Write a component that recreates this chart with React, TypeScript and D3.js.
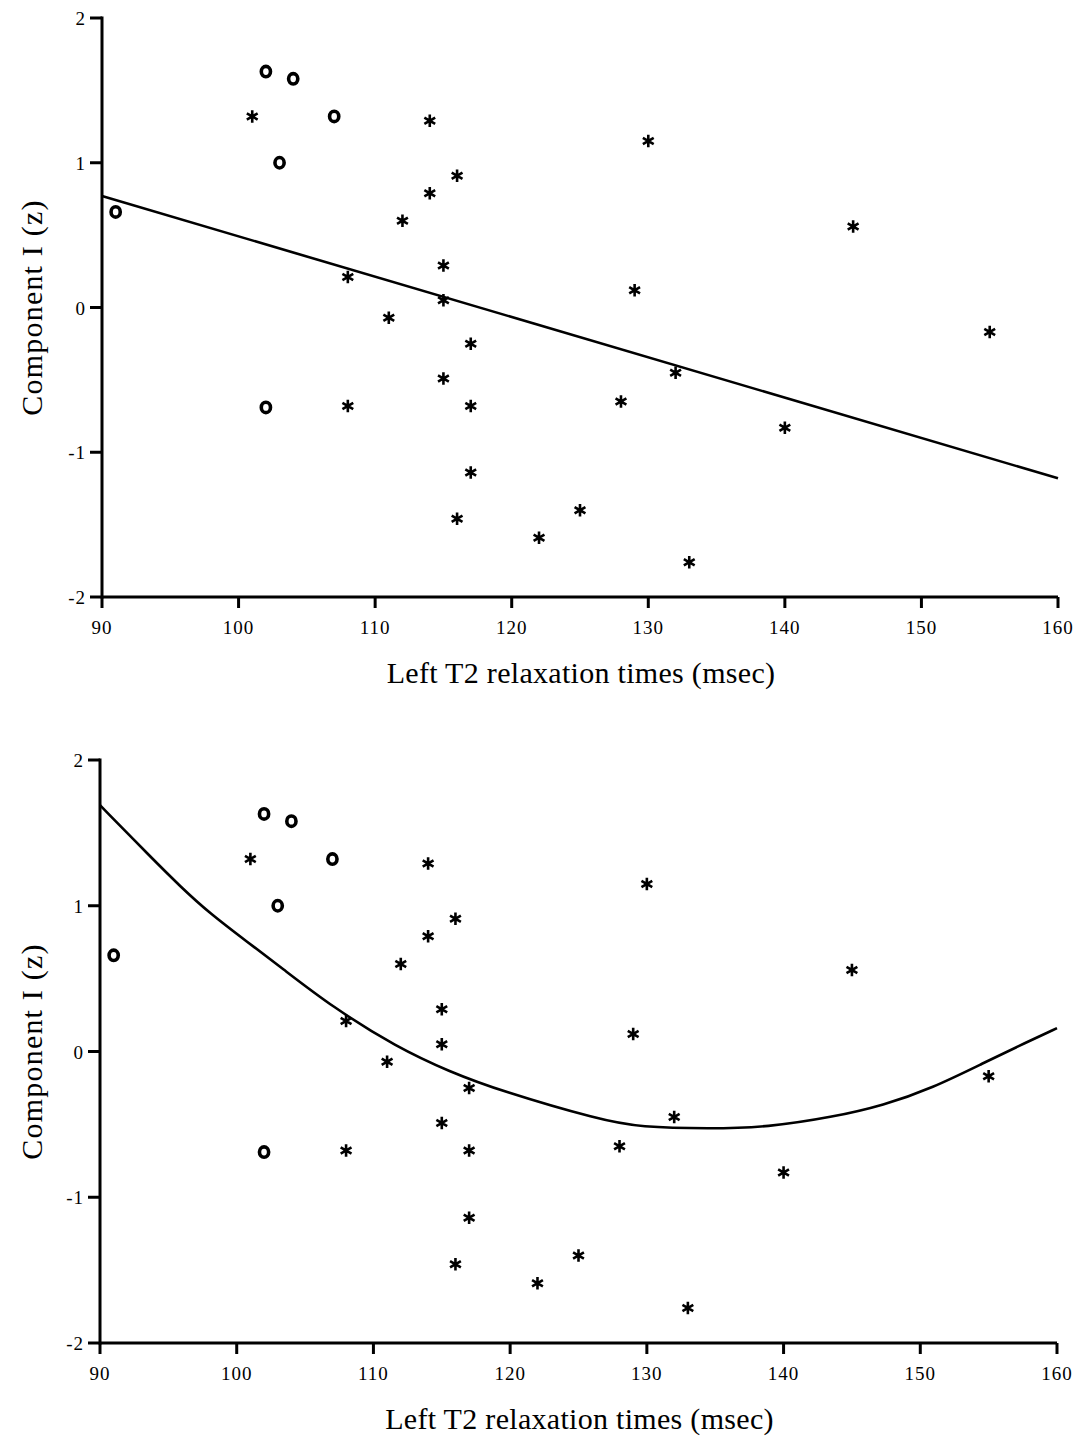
import React from "react";
import * as d3 from "d3";

// observations: "o" group and "*" group (same data in both panels)
const circleX = [102, 104, 107, 103, 91, 102];
const circleY = [1.63, 1.58, 1.32, 1.0, 0.66, -0.69];
const starX = [101, 114, 130, 116, 114, 112, 145, 115, 108, 129, 115, 111, 155, 117, 132, 115, 128, 108, 117, 140, 117, 125, 116, 122, 133];
const starY = [1.32, 1.29, 1.15, 0.91, 0.79, 0.6, 0.56, 0.29, 0.21, 0.12, 0.05, -0.07, -0.17, -0.25, -0.45, -0.49, -0.65, -0.68, -0.68, -0.83, -1.14, -1.4, -1.46, -1.59, -1.76];

// fitted curves
const linearFitX = [90, 160];
const linearFitY = [0.77, -1.18];
const quadFitX = [90, 93.7, 95.9, 98, 100.8, 103.2, 107, 111.7, 115.6, 119.3, 126.6, 129.5, 134.6, 138.8, 143.6, 147.3, 150.9, 154.6, 157.8, 160];
const quadFitY = [1.69, 1.335, 1.13, 0.95, 0.75, 0.58, 0.305, 0.03, -0.14, -0.27, -0.47, -0.52, -0.53, -0.52, -0.45, -0.37, -0.25, -0.08, 0.065, 0.16];

const xTicks = [90, 100, 110, 120, 130, 140, 150, 160];
const yTicks = [-2, -1, 0, 1, 2];
const xTitle = "Left T2 relaxation times (msec)";
const yTitle = "Component I (z)";

const font = "'Liberation Serif', 'DejaVu Serif', serif";

const star = d3.symbol(d3.symbolAsterisk, 110)();

const Panel = ({ xRange, yRange, fitX, fitY, xTitleY, smooth }) => {
  const x = d3.scaleLinear().domain([90, 160]).range(xRange);
  const y = d3.scaleLinear().domain([-2, 2]).range(yRange);
  const fit = d3
    .line()
    .x(d => x(d[0]))
    .y(d => y(d[1]))
    .curve(smooth ? d3.curveBasis : d3.curveLinear);
  const fitData = fitX.map((v, i) => [v, fitY[i]]);
  const x0 = xRange[0];
  const y0 = yRange[0];
  const yMid = (yRange[0] + yRange[1]) / 2;

  return (
    <g>
      {/* fitted line */}
      <path d={fit(fitData)} fill="none" stroke="#000" strokeWidth={2.6} />

      {/* axes */}
      <line x1={x0} x2={xRange[1]} y1={y0} y2={y0} stroke="#000" strokeWidth={3} />
      <line x1={x0} x2={x0} y1={y0 + 1.5} y2={yRange[1] - 1.5} stroke="#000" strokeWidth={3} />
      {xTicks.map(t => (
        <g key={`x${t}`}>
          <line x1={x(t)} x2={x(t)} y1={y0} y2={y0 + 11} stroke="#000" strokeWidth={3} />
          <text x={x(t)} y={y0 + 37} textAnchor="middle" fontFamily={font} fontSize={19} letterSpacing={1}>
            {t}
          </text>
        </g>
      ))}
      {yTicks.map(t => (
        <g key={`y${t}`}>
          <line x1={x0 - 12} x2={x0} y1={y(t)} y2={y(t)} stroke="#000" strokeWidth={3} />
          <text x={x0 - 16} y={y(t) + 7} textAnchor="end" fontFamily={font} fontSize={19} letterSpacing={1}>
            {t < 0 ? `-${-t}` : t}
          </text>
        </g>
      ))}

      {/* points */}
      {circleX.map((v, i) => (
        <ellipse
          key={`c${i}`}
          cx={x(v)}
          cy={y(circleY[i])}
          rx={4.6}
          ry={5.2}
          fill="none"
          stroke="#000"
          strokeWidth={3.6}
        />
      ))}
      {starX.map((v, i) => (
        <path
          key={`s${i}`}
          d={star}
          transform={`translate(${x(v)},${y(starY[i])})`}
          fill="none"
          stroke="#000"
          strokeWidth={2.6}
        />
      ))}

      {/* titles */}
      <text
        x={(xRange[0] + xRange[1]) / 2 + 1}
        y={xTitleY}
        textAnchor="middle"
        fontFamily={font}
        fontSize={30}
        letterSpacing={0.3}
      >
        {xTitle}
      </text>
      <text
        transform={`translate(31,${yMid}) rotate(-90)`}
        textAnchor="middle"
        dy="0.35em"
        fontFamily={font}
        fontSize={30}
        letterSpacing={1.2}
      >
        {yTitle}
      </text>
    </g>
  );
};

export default function App() {
  return (
    <svg
      width={1076}
      height={1440}
      style={{ position: "absolute", left: 0, top: 0, background: "#fff" }}
    >
      <rect width={1076} height={1440} fill="#fff" />
      <Panel xRange={[102, 1058]} yRange={[597, 18]} fitX={linearFitX} fitY={linearFitY} xTitleY={683} smooth={false} />
      <Panel xRange={[100, 1057]} yRange={[1343, 760]} fitX={quadFitX} fitY={quadFitY} xTitleY={1429} smooth={true} />
    </svg>
  );
}
